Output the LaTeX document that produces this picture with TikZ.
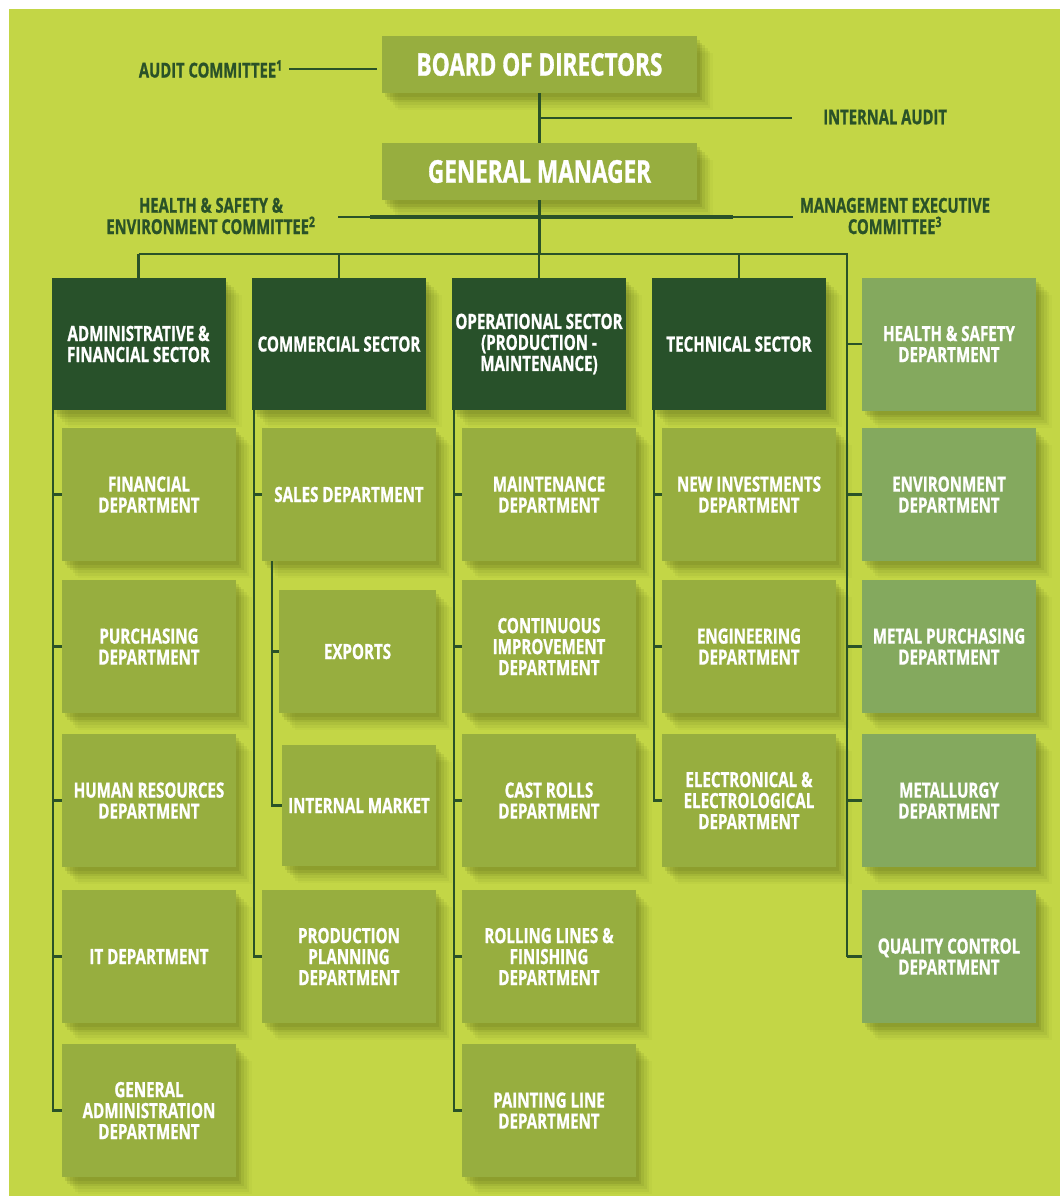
\documentclass[tikz,border=0pt]{standalone}
\usepackage{fontspec}
\setmainfont{Open Sans}[FakeStretch=0.72, BoldFeatures={FakeBold=1}]
\definecolor{bglime}{HTML}{C3D646}
\definecolor{boxlight}{HTML}{97AE3F}
\definecolor{boxdark}{HTML}{28512A}
\definecolor{boxmuted}{HTML}{84A95E}
\definecolor{linegreen}{HTML}{2A5228}
\definecolor{shadowcol}{HTML}{4A5A10}
\def\pxu{0.75pt}
\begin{document}
\begin{tikzpicture}[x=0.75pt,y=-0.75pt,
 base/.style={rectangle, inner sep=0pt, text=white, align=center,
   font=\bfseries\fontsize{15.75}{15.75}\selectfont,
   preaction={fill=shadowcol, fill opacity=0.13, transform canvas={xshift=2pt, yshift=-3pt}},
   preaction={fill=shadowcol, fill opacity=0.12, transform canvas={xshift=4pt, yshift=-5pt}},
   preaction={fill=shadowcol, fill opacity=0.10, transform canvas={xshift=6pt, yshift=-7pt}},
   preaction={fill=shadowcol, fill opacity=0.08, transform canvas={xshift=8pt, yshift=-9pt}},
   preaction={fill=shadowcol, fill opacity=0.06, transform canvas={xshift=10pt, yshift=-11pt}},
   preaction={fill=shadowcol, fill opacity=0.04, transform canvas={xshift=12pt, yshift=-13pt}}},
 subbox/.style={base, fill=boxlight, minimum width=174*\pxu, minimum height=133*\pxu},
 sector/.style={base, fill=boxdark, minimum width=174*\pxu, minimum height=132*\pxu},
 sidebox/.style={base, fill=boxmuted, minimum width=174*\pxu, minimum height=133*\pxu},
 topbox/.style={base, fill=boxlight, minimum width=315*\pxu, minimum height=57*\pxu,
   font=\bfseries\fontsize{23.5}{23.5}\selectfont},
 label/.style={inner sep=0pt, text=linegreen, align=center,
   font=\bfseries\fontsize{15.4}{16}\selectfont},
 conn/.style={draw=linegreen, line width=1.65pt},
 thickconn/.style={draw=linegreen, line width=2.85pt},
]
\useasboundingbox (0,0) rectangle (1060,1196);
\fill[white] (0,0) rectangle (1060,1196);
\fill[bglime] (9,9) rectangle (1060,1196);

% top
\node[topbox] (bod) at (539.5,64.5) {BOARD OF DIRECTORS};
\node[topbox] (gm) at (539.5,171.5) {GENERAL MANAGER};
\node[label, anchor=east] (ac) at (283,69) {AUDIT COMMITTEE\textsuperscript{1}};
\node[label, anchor=west] (ia) at (823,117) {INTERNAL AUDIT};
\node[label] (hsec) at (211,216) {HEALTH \& SAFETY \&\\ENVIRONMENT COMMITTEE\textsuperscript{2}};
\node[label] (mec) at (895,216) {MANAGEMENT EXECUTIVE\\COMMITTEE\textsuperscript{3}};

% sectors
\node[sector] (s1) at (138.5,344) {ADMINISTRATIVE \&\\FINANCIAL SECTOR};
\node[sector] (s2) at (339,344) {COMMERCIAL SECTOR};
\node[sector] (s3) at (539,344) {OPERATIONAL SECTOR\\(PRODUCTION -\\MAINTENANCE)};
\node[sector] (s4) at (739,344) {TECHNICAL SECTOR};
\node[sidebox] (s5) at (949,344) {HEALTH \& SAFETY\\DEPARTMENT};

% column 1
\node[subbox] (a1) at (149,494.5) {FINANCIAL\\DEPARTMENT};
\node[subbox] (a2) at (149,646.5) {PURCHASING\\DEPARTMENT};
\node[subbox] (a3) at (149,800.5) {HUMAN RESOURCES\\DEPARTMENT};
\node[subbox] (a4) at (149,956.5) {IT DEPARTMENT};
\node[subbox] (a5) at (149,1110.5) {GENERAL\\ADMINISTRATION\\DEPARTMENT};

% column 2
\node[subbox] (c1) at (349,494.5) {SALES DEPARTMENT};
\node[subbox, minimum width=157*\pxu, minimum height=123*\pxu] (c2) at (357.5,651.5) {EXPORTS};
\node[subbox, minimum width=154*\pxu, minimum height=121*\pxu] (c3) at (359,805.5) {INTERNAL MARKET};
\node[subbox] (c4) at (349,956.5) {PRODUCTION\\PLANNING\\DEPARTMENT};

% column 3
\node[subbox] (o1) at (549,494.5) {MAINTENANCE\\DEPARTMENT};
\node[subbox] (o2) at (549,646.5) {CONTINUOUS\\IMPROVEMENT\\DEPARTMENT};
\node[subbox] (o3) at (549,800.5) {CAST ROLLS\\DEPARTMENT};
\node[subbox] (o4) at (549,956.5) {ROLLING LINES \&\\FINISHING\\DEPARTMENT};
\node[subbox] (o5) at (549,1110.5) {PAINTING LINE\\DEPARTMENT};

% column 4
\node[subbox] (t1) at (749,494.5) {NEW INVESTMENTS\\DEPARTMENT};
\node[subbox] (t2) at (749,646.5) {ENGINEERING\\DEPARTMENT};
\node[subbox] (t3) at (749,800.5) {ELECTRONICAL \&\\ELECTROLOGICAL\\DEPARTMENT};

% column 5
\node[sidebox] (h2) at (949,494.5) {ENVIRONMENT\\DEPARTMENT};
\node[sidebox] (h3) at (949,646.5) {METAL PURCHASING\\DEPARTMENT};
\node[sidebox] (h4) at (949,800.5) {METALLURGY\\DEPARTMENT};
\node[sidebox] (h5) at (949,956.5) {QUALITY CONTROL\\DEPARTMENT};

% connectors top
\draw[conn] ([xshift=6*\pxu]ac.east) -- ([xshift=-5*\pxu]bod.west |- ac.east);
\draw[conn] (bod.south) -- (gm.north);
\coordinate (iaend) at (792,118);
\draw[conn] (bod.south |- iaend) -- (iaend);
\coordinate (hL) at (338,216.7);
\coordinate (hR) at (793,216.7);
\coordinate (kL) at (370,216.7);
\coordinate (kR) at (733,216.7);
\draw[conn] (hL) -- (hR);
\draw[thickconn] (kL) -- (kR);

% bus
\coordinate (busL) at (138.5,254);
\coordinate (busR) at (847,254);
\draw[conn] (gm.south) -- (gm.south |- busL);
\draw[conn] (busL) -- (busR) -- (busR |- h5.west);
\foreach \n in {s1,s2,s3,s4} \draw[conn] (\n.north |- busL) -- (\n.north);
\foreach \n in {s5,h2,h3,h4,h5} \draw[conn] (busR |- \n.west) -- (\n.west);

% column lines
\coordinate (v1) at ([xshift=2*\pxu]s1.south west);
\draw[conn] (v1) |- (a5.west);
\foreach \n in {a1,a2,a3,a4} \draw[conn] (v1 |- \n.west) -- (\n.west);

\coordinate (v2) at ([xshift=2*\pxu]s2.south west);
\draw[conn] (v2) |- (c4.west);
\draw[conn] (v2 |- c1.west) -- (c1.west);
\coordinate (v2b) at ([xshift=10*\pxu]c1.south west);
\draw[conn] (v2b) |- (c3.west);
\draw[conn] (v2b |- c2.west) -- (c2.west);

\coordinate (v3) at ([xshift=2*\pxu]s3.south west);
\draw[conn] (v3) |- (o5.west);
\foreach \n in {o1,o2,o3,o4} \draw[conn] (v3 |- \n.west) -- (\n.west);

\coordinate (v4) at ([xshift=2*\pxu]s4.south west);
\draw[conn] (v4) |- (t3.west);
\foreach \n in {t1,t2} \draw[conn] (v4 |- \n.west) -- (\n.west);
\end{tikzpicture}
\end{document}
